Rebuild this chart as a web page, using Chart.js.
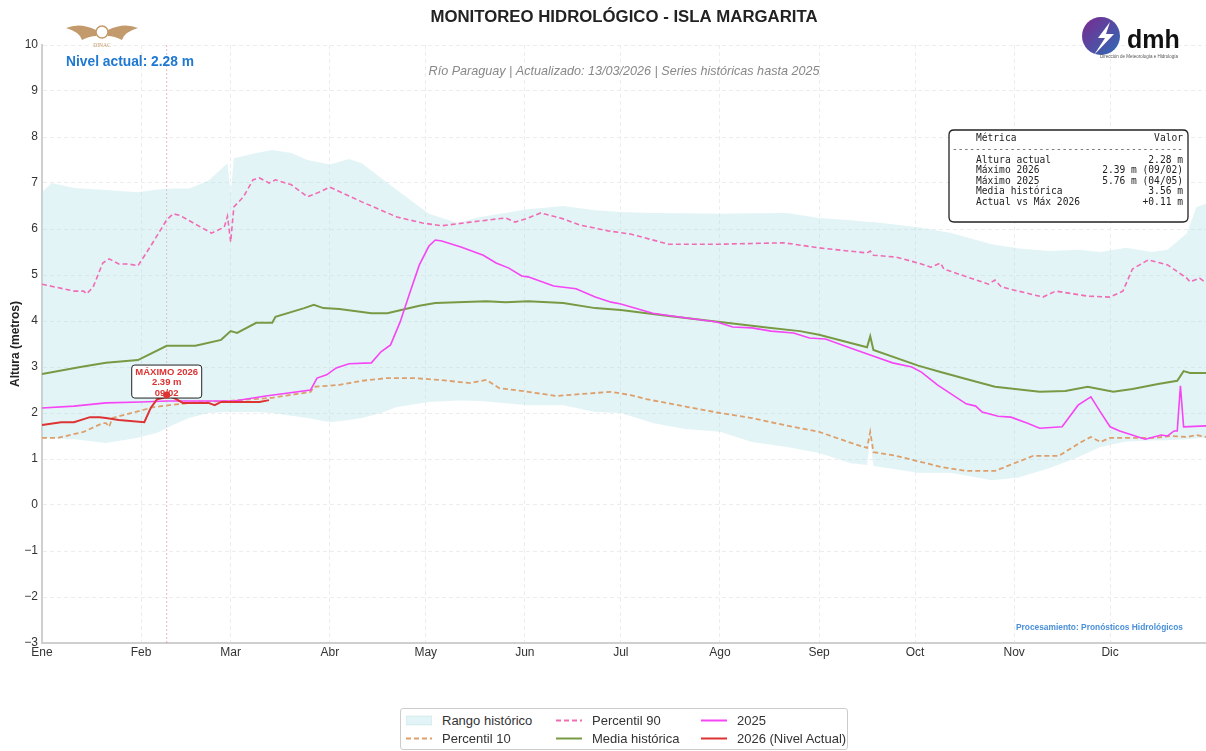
<!DOCTYPE html>
<html>
<head>
<meta charset="utf-8">
<script src="https://cdn.jsdelivr.net/npm/chart.js@4"></script>
<style>
  body { margin: 0; background: #fff; font-family: "Liberation Sans", Arial, sans-serif; }
  #wrap { position: relative; width: 1206px; height: 751px; }
  #legend {
    position: absolute; left: 400px; top: 708px; width: 446px; height: 38px;
    border: 1px solid #ccc; border-radius: 3px; background: #fff;
    display: grid; grid-template-columns: 150px 145px 151px; grid-template-rows: 18px 18px;
    padding-top: 2px; box-sizing: content-box;
  }
  .item { display: flex; align-items: center; font-size: 13px; color: #333; white-space: nowrap; }
  .item svg { margin: 0 10px 0 5px; }
</style>
</head>
<body>
<div id="wrap">
  <canvas id="chart"></canvas>
  <div id="legend"></div>
</div>
<script>
const monthTicks = [0, 31, 59, 90, 120, 151, 181, 212, 243, 273, 304, 334];
const monthLabels = ["Ene", "Feb", "Mar", "Abr", "May", "Jun", "Jul", "Ago", "Sep", "Oct", "Nov", "Dic"];

// rango histórico (min / max)
const bandDays = [0, 3, 10, 20, 30, 36, 41, 46, 52, 58, 59, 60, 67, 72, 78, 83, 90, 96, 100, 106, 111, 121, 130, 137, 152, 163, 173, 181, 191, 201, 212, 222, 233, 243, 253, 258, 259, 260, 274, 284, 297, 305, 315, 324, 331, 339, 347, 352, 358, 361, 364];
const bandMax = [6.8, 7.0, 6.89, 6.85, 6.8, 6.86, 6.88, 6.88, 7.05, 7.43, 6.78, 7.54, 7.65, 7.72, 7.65, 7.5, 7.4, 7.52, 7.43, 7.11, 6.85, 6.33, 6.13, 6.26, 6.43, 6.5, 6.41, 6.37, 6.35, 6.34, 6.33, 6.34, 6.35, 6.24, 6.19, 6.16, 6.15, 6.15, 6.04, 5.92, 5.67, 5.58, 5.52, 5.55, 5.5, 5.59, 5.5, 5.55, 5.91, 6.48, 6.55];
const bandMin = [1.46, 1.45, 1.43, 1.35, 1.46, 1.57, 1.74, 1.89, 2.0, 2.02, 2.02, 2.02, 2.02, 2.0, 1.94, 1.89, 1.8, 1.85, 1.89, 2.0, 2.13, 2.24, 2.27, 2.26, 2.17, 2.17, 2.02, 2.0, 1.78, 1.65, 1.59, 1.37, 1.26, 1.13, 0.91, 0.87, 1.41, 0.85, 0.7, 0.7, 0.54, 0.59, 0.8, 1.04, 1.26, 1.38, 1.4, 1.41, 1.43, 1.45, 1.46];

// percentil 90
const p90Days = [0, 10, 13, 14, 16, 19, 21, 24, 27, 30, 34, 39, 41, 43, 53, 57, 58, 59, 60, 63, 66, 68, 71, 73, 78, 83, 86, 90, 100, 111, 119, 125, 134, 145, 148, 152, 156, 163, 168, 177, 184, 196, 212, 232, 243, 258, 259, 260, 267, 274, 278, 281, 282, 296, 298, 300, 313, 317, 327, 334, 338, 341, 346, 352, 358, 359, 362, 364];
const p90Vals = [4.8, 4.65, 4.65, 4.59, 4.74, 5.26, 5.35, 5.24, 5.24, 5.2, 5.63, 6.2, 6.33, 6.3, 5.91, 6.04, 6.28, 5.72, 6.48, 6.7, 7.07, 7.11, 7.0, 7.07, 6.96, 6.7, 6.78, 6.91, 6.59, 6.26, 6.13, 6.07, 6.15, 6.24, 6.15, 6.24, 6.35, 6.22, 6.09, 5.96, 5.89, 5.67, 5.67, 5.7, 5.59, 5.48, 5.52, 5.43, 5.39, 5.26, 5.17, 5.26, 5.13, 4.8, 4.89, 4.74, 4.52, 4.65, 4.54, 4.52, 4.65, 5.13, 5.33, 5.22, 4.93, 4.85, 4.93, 4.83];

// percentil 10
const p10Days = [0, 5, 13, 19, 20, 21, 22, 35, 40, 49, 58, 72, 84, 85, 93, 100, 108, 116, 124, 134, 139, 143, 150, 161, 168, 178, 184, 189, 202, 212, 222, 232, 243, 253, 258, 259, 260, 267, 274, 281, 289, 298, 310, 318, 325, 328, 331, 334, 341, 348, 353, 358, 361, 364];
const p10Vals = [1.46, 1.46, 1.59, 1.78, 1.78, 1.7, 1.89, 2.13, 2.17, 2.24, 2.26, 2.33, 2.46, 2.57, 2.61, 2.7, 2.76, 2.76, 2.72, 2.65, 2.72, 2.54, 2.48, 2.37, 2.41, 2.46, 2.39, 2.3, 2.13, 2.0, 1.89, 1.74, 1.59, 1.35, 1.24, 1.59, 1.15, 1.07, 0.95, 0.83, 0.74, 0.74, 1.07, 1.07, 1.37, 1.48, 1.37, 1.46, 1.46, 1.46, 1.5, 1.48, 1.52, 1.48];

// media histórica
const meanDays = [0, 12, 20, 30, 39, 48, 56, 59, 61, 67, 72, 73, 82, 85, 88, 93, 103, 108, 118, 123, 139, 145, 152, 163, 173, 181, 196, 212, 228, 237, 243, 258, 259, 260, 274, 281, 289, 298, 312, 320, 327, 335, 341, 349, 355, 357, 359, 364];
const meanVals = [2.85, 3.0, 3.09, 3.15, 3.46, 3.46, 3.59, 3.78, 3.74, 3.96, 3.96, 4.09, 4.28, 4.35, 4.28, 4.26, 4.17, 4.17, 4.33, 4.39, 4.43, 4.41, 4.43, 4.39, 4.28, 4.24, 4.11, 3.98, 3.85, 3.78, 3.7, 3.43, 3.67, 3.37, 3.03, 2.89, 2.74, 2.57, 2.46, 2.48, 2.57, 2.46, 2.52, 2.63, 2.7, 2.91, 2.87, 2.87];

// año 2025
const y2025Days = [0, 10, 20, 31, 39, 51, 60, 70, 84, 86, 89, 92, 96, 103, 106, 109, 112, 115, 118, 121, 123, 125, 131, 138, 142, 146, 150, 152, 160, 167, 173, 178, 181, 191, 201, 211, 216, 222, 228, 235, 240, 245, 253, 259, 266, 272, 275, 280, 289, 292, 294, 299, 303, 308, 312, 319, 324, 328, 331, 334, 337, 345, 350, 352, 354, 355, 356, 357, 364];
const y2025Vals = [2.11, 2.15, 2.22, 2.24, 2.26, 2.26, 2.26, 2.37, 2.5, 2.76, 2.83, 2.98, 3.07, 3.09, 3.33, 3.48, 3.98, 4.61, 5.22, 5.63, 5.76, 5.74, 5.61, 5.43, 5.26, 5.15, 4.98, 4.96, 4.76, 4.7, 4.52, 4.41, 4.37, 4.17, 4.07, 3.98, 3.87, 3.85, 3.78, 3.74, 3.63, 3.61, 3.41, 3.26, 3.09, 3.0, 2.89, 2.61, 2.2, 2.15, 2.02, 1.93, 1.91, 1.78, 1.67, 1.7, 2.17, 2.35, 2.02, 1.7, 1.61, 1.43, 1.52, 1.5, 1.61, 1.61, 2.59, 1.7, 1.72];

// año 2026 (nivel actual)
const y2026Days = [0, 6, 10, 15, 18, 20, 24, 32, 34, 36, 38, 39, 42, 44, 52, 54, 56, 60, 64, 68, 71];
const y2026Vals = [1.74, 1.8, 1.8, 1.91, 1.91, 1.89, 1.85, 1.8, 2.11, 2.3, 2.33, 2.39, 2.3, 2.22, 2.22, 2.17, 2.24, 2.24, 2.24, 2.24, 2.28];

const maxDay2026 = 39;
const maxVal2026 = 2.39;

const metricNames = ["Altura actual", "Máximo 2026", "Máximo 2025", "Media histórica", "Actual vs Máx 2026"];
const metricValues = ["2.28 m", "2.39 m (09/02)", "5.76 m (04/05)", "3.56 m", "+0.11 m"];

const toXY = (days, vals) => days.map((d, i) => ({ x: d, y: vals[i] }));

const BAND = "rgba(176,224,230,0.35)";
const P90 = "#f06cb4";
const P10 = "#dda06d";
const MEAN = "#789a45";
const C2025 = "#f545f5";
const C2026 = "#dd3333";

const legendItems = [
  { label: "Rango histórico", type: "box", color: BAND },
  { label: "Percentil 90", type: "dash", color: P90 },
  { label: "2025", type: "line", color: C2025 },
  { label: "Percentil 10", type: "dash", color: P10 },
  { label: "Media histórica", type: "line", color: MEAN },
  { label: "2026 (Nivel Actual)", type: "line", color: C2026 },
];

const legend = document.getElementById("legend");
legend.innerHTML = legendItems.map(it => {
  let sw;
  if (it.type === "box") sw = `<rect x="0" y="4" width="26" height="9" fill="${it.color}" stroke="rgba(150,205,212,0.5)" stroke-width="0.5"/>`;
  else if (it.type === "dash") sw = `<line x1="0" y1="8.5" x2="26" y2="8.5" stroke="${it.color}" stroke-width="2" stroke-dasharray="5,3"/>`;
  else sw = `<line x1="0" y1="8.5" x2="26" y2="8.5" stroke="${it.color}" stroke-width="2"/>`;
  return `<div class="item"><svg width="26" height="17">${sw}</svg>${it.label}</div>`;
}).join("");

function roundRect(ctx, x, y, w, h, r) {
  ctx.beginPath();
  ctx.moveTo(x + r, y);
  ctx.lineTo(x + w - r, y);
  ctx.quadraticCurveTo(x + w, y, x + w, y + r);
  ctx.lineTo(x + w, y + h - r);
  ctx.quadraticCurveTo(x + w, y + h, x + w - r, y + h);
  ctx.lineTo(x + r, y + h);
  ctx.quadraticCurveTo(x, y + h, x, y + h - r);
  ctx.lineTo(x, y + r);
  ctx.quadraticCurveTo(x, y, x + r, y);
  ctx.closePath();
}

const decor = {
  id: "decor",
  beforeDatasetsDraw(chart) {
    const { ctx, chartArea, scales } = chart;
    const px = scales.x.getPixelForValue(maxDay2026);
    ctx.save();
    ctx.strokeStyle = "rgba(220,80,80,0.5)";
    ctx.lineWidth = 0.8;
    ctx.setLineDash([2, 2]);
    ctx.beginPath();
    ctx.moveTo(px, chartArea.top);
    ctx.lineTo(px, chartArea.bottom);
    ctx.stroke();
    ctx.restore();
  },
  afterDatasetsDraw(chart) {
    const { ctx, scales } = chart;
    const px = scales.x.getPixelForValue(maxDay2026);
    const py = scales.y.getPixelForValue(maxVal2026);
    ctx.save();
    roundRect(ctx, px - 35, py - 30, 70, 33, 3);
    ctx.fillStyle = "rgba(255,255,255,0.95)";
    ctx.fill();
    ctx.strokeStyle = "#222";
    ctx.lineWidth = 1;
    ctx.stroke();
    ctx.fillStyle = C2026;
    ctx.font = "bold 9.5px 'Liberation Sans', Arial, sans-serif";
    ctx.textAlign = "center";
    ctx.textBaseline = "middle";
    ctx.fillText("MÁXIMO 2026", px, py - 23);
    ctx.fillText(maxVal2026.toFixed(2) + " m", px, py - 13);
    ctx.fillText("09/02", px, py - 2);
    ctx.beginPath();
    ctx.arc(px, py, 3.5, 0, Math.PI * 2);
    ctx.fill();
    ctx.restore();
  },
  afterDraw(chart) {
    const { ctx, chartArea } = chart;
    const cx = (chartArea.left + chartArea.right) / 2;
    ctx.save();
    ctx.textAlign = "center";
    ctx.textBaseline = "middle";
    ctx.fillStyle = "#222";
    ctx.font = "bold 16.8px 'Liberation Sans', Arial, sans-serif";
    ctx.fillText("MONITOREO HIDROLÓGICO - ISLA MARGARITA", cx, 17);
    ctx.fillStyle = "#888";
    ctx.font = "italic 12.6px 'Liberation Sans', Arial, sans-serif";
    ctx.fillText("Río Paraguay | Actualizado: 13/03/2026 | Series históricas hasta 2025", cx, 71);

    ctx.textAlign = "left";
    ctx.fillStyle = "#1f78d1";
    ctx.font = "bold 13.8px 'Liberation Sans', Arial, sans-serif";
    ctx.fillText("Nivel actual: 2.28 m", 66, 62);

    // DINAC logo (simple)
    ctx.fillStyle = "#c39a6b";
    ctx.strokeStyle = "#c39a6b";
    for (const s of [-1, 1]) {
      ctx.beginPath();
      ctx.moveTo(102 + s * 6, 30);
      ctx.quadraticCurveTo(102 + s * 22, 22, 102 + s * 36, 28);
      ctx.quadraticCurveTo(102 + s * 22, 32, 102 + s * 20, 40);
      ctx.quadraticCurveTo(102 + s * 12, 36, 102 + s * 6, 36);
      ctx.closePath();
      ctx.fill();
    }
    ctx.beginPath();
    ctx.arc(102, 32, 6, 0, Math.PI * 2);
    ctx.lineWidth = 1.5;
    ctx.stroke();
    ctx.textAlign = "center";
    ctx.font = "5.5px 'Liberation Serif', serif";
    ctx.fillText("DINAC", 102, 46);

    // dmh logo (simple)
    const g = ctx.createLinearGradient(1082, 18, 1122, 56);
    g.addColorStop(0, "#7b2a8f");
    g.addColorStop(1, "#2a6fb8");
    ctx.fillStyle = g;
    ctx.beginPath();
    ctx.arc(1101, 36, 19, 0, Math.PI * 2);
    ctx.fill();
    ctx.fillStyle = "#fff";
    ctx.beginPath();
    ctx.moveTo(1110, 22); ctx.lineTo(1098, 38); ctx.lineTo(1105, 38);
    ctx.lineTo(1094, 55); ctx.lineTo(1114, 34); ctx.lineTo(1106, 34);
    ctx.closePath();
    ctx.fill();
    ctx.fillStyle = "#111";
    ctx.textAlign = "left";
    ctx.font = "bold 25px 'Liberation Sans', Arial, sans-serif";
    ctx.fillText("dmh", 1127, 41);
    ctx.fillStyle = "#555";
    ctx.font = "4.5px 'Liberation Sans', Arial, sans-serif";
    ctx.fillText("Dirección de Meteorología e Hidrología", 1100, 57);

    // metrics table
    const bx = chartArea.right - 257, by = 130, bw = 239, bh = 92;
    roundRect(ctx, bx, by, bw, bh, 5);
    ctx.fillStyle = "#fff";
    ctx.fill();
    ctx.strokeStyle = "#222";
    ctx.lineWidth = 1.3;
    ctx.stroke();
    ctx.fillStyle = "#222";
    ctx.font = "9.6px 'DejaVu Sans Mono', monospace";
    const lx = bx + 27, rx = bx + bw - 5;
    ctx.textAlign = "left";
    ctx.fillText("Métrica", lx, by + 8);
    ctx.textAlign = "right";
    ctx.fillText("Valor", rx, by + 8);
    ctx.fillStyle = "#666";
    ctx.fillText("-".repeat(40), rx, by + 19);
    ctx.fillStyle = "#222";
    metricNames.forEach((n, i) => {
      const yy = by + 30 + i * 10.6;
      ctx.textAlign = "left";
      ctx.fillText(n, lx, yy);
      ctx.textAlign = "right";
      ctx.fillText(metricValues[i], rx, yy);
    });

    ctx.textAlign = "right";
    ctx.fillStyle = "#4a90d9";
    ctx.font = "bold 8.4px 'Liberation Sans', Arial, sans-serif";
    ctx.fillText("Procesamiento: Pronósticos Hidrológicos", chartArea.right - 23, chartArea.bottom - 15);
    ctx.restore();
  }
};

const lineDefaults = { pointRadius: 0, pointHoverRadius: 0, tension: 0, fill: false };

new Chart(document.getElementById("chart"), {
  type: "line",
  data: {
    datasets: [
      { ...lineDefaults, label: "2026 (Nivel Actual)", data: toXY(y2026Days, y2026Vals), borderColor: C2026, borderWidth: 2 },
      { ...lineDefaults, label: "2025", data: toXY(y2025Days, y2025Vals), borderColor: C2025, borderWidth: 1.6 },
      { ...lineDefaults, label: "Media histórica", data: toXY(meanDays, meanVals), borderColor: MEAN, borderWidth: 2 },
      { ...lineDefaults, label: "Percentil 10", data: toXY(p10Days, p10Vals), borderColor: P10, borderWidth: 1.8, borderDash: [5, 3] },
      { ...lineDefaults, label: "Percentil 90", data: toXY(p90Days, p90Vals), borderColor: P90, borderWidth: 1.6, borderDash: [5, 3] },
      { ...lineDefaults, label: "Rango histórico", data: toXY(bandDays, bandMax), borderWidth: 0, borderColor: "rgba(0,0,0,0)", backgroundColor: BAND, fill: "+1" },
      { ...lineDefaults, label: "Rango min", data: toXY(bandDays, bandMin), borderWidth: 0, borderColor: "rgba(0,0,0,0)" }
    ]
  },
  options: {
    responsive: true,
    maintainAspectRatio: false,
    animation: false,
    layout: { padding: { top: 45, right: 0, bottom: 88, left: 0 } },
    plugins: { legend: { display: false }, tooltip: { enabled: false } },
    scales: {
      x: {
        type: "linear",
        min: 0,
        max: 364,
        afterBuildTicks: s => { s.ticks = monthTicks.map(v => ({ value: v })); },
        afterFit: s => { s.height = 20; },
        ticks: {
          autoSkip: false, maxRotation: 0, padding: 2,
          color: "#333", font: { size: 12, family: "'Liberation Sans', Arial, sans-serif" },
          callback: v => monthLabels[monthTicks.indexOf(v)]
        },
        grid: { color: "#ededed", lineWidth: 1, drawTicks: false },
        border: { display: true, color: "#cfcfcf", width: 2, dash: [4, 3] }
      },
      y: {
        min: -3,
        max: 10,
        afterFit: s => { s.width = 42; },
        ticks: {
          stepSize: 1, padding: 4,
          color: "#333", font: { size: 12, family: "'Liberation Sans', Arial, sans-serif" },
          callback: v => (v < 0 ? "\u2212" + Math.abs(v) : v)
        },
        grid: { color: "#ededed", lineWidth: 1, drawTicks: false },
        border: { display: true, color: "#cfcfcf", width: 2, dash: [4, 3] },
        title: {
          display: true, text: "Altura (metros)", color: "#222",
          font: { size: 12, weight: "bold", family: "'Liberation Sans', Arial, sans-serif" },
          padding: { top: 8, bottom: 0 }
        }
      }
    }
  },
  plugins: [decor]
});
</script>
</body>
</html>
